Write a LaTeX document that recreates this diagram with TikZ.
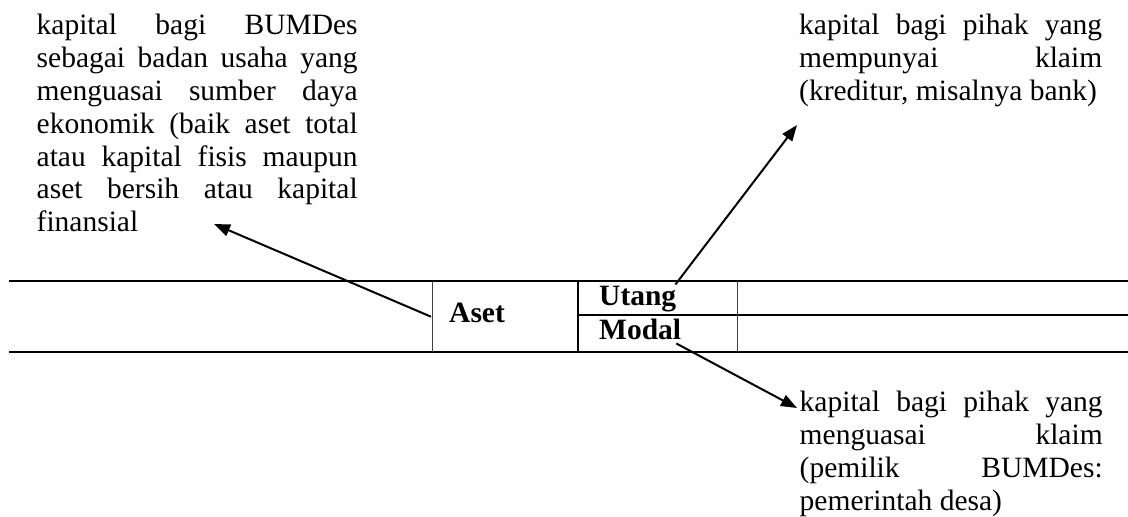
\documentclass[tikz,border=0pt]{standalone}
\usepackage{fontspec}
\setmainfont{Liberation Serif}
\usetikzlibrary{arrows.meta}
\hyphenpenalty=10000
\exhyphenpenalty=10000
\tolerance=9999

\tikzset{
  keterangan/.style={anchor=base west, inner sep=0pt, text width=#1, align=justify,
    font=\fontsize{29.5}{32.8}\selectfont},
  garis/.style={line width=2pt},
  sekat/.style={line width=0.7pt, black!75},
  panah/.style={line width=2pt, -{Triangle[length=16pt,width=12pt]}},
  posbox/.style={anchor=base west, inner sep=0pt, font=\fontsize{29.5}{32.8}\selectfont\bfseries}
}

\begin{document}
\begin{tikzpicture}[x=1pt,y=1pt,line join=round]
			\useasboundingbox (0,0) rectangle (1128,517);
			% tabel
			\coordinate (KA) at (9,236);
			\coordinate (KB) at (9,165);
			\coordinate (NA) at (1128,236);
			\coordinate (NB) at (1128,165);
			\coordinate (NT) at (1128,201.5);
			\coordinate (AA) at (432,236);
			\coordinate (AB) at (432,165);
			\coordinate (UA) at (578,236);
			\coordinate (UT) at (578,201.5);
			\coordinate (UB) at (578,165);
			\coordinate (SA) at (737,236);
			\coordinate (SB) at (737,165);
			\draw[garis] (KA)--(NA);
			\draw[garis] (KB)--(NB);
			\draw[garis] (UT)--(NT);
			\draw[garis,line width=1.4pt] (UA)--(UB);
			\draw[sekat] (AA)--(AB);
			\draw[sekat] (SA)--(SB);
			\node[posbox] (aset) at (449,194) {Aset};
			\node[posbox] (utang) at (599,211) {Utang};
			\node[posbox] (modal) at (599,177) {Modal};
			% keterangan
			\node[keterangan=321pt] (kiri) at (36.5,482) {kapital bagi BUMDes sebagai badan usaha yang menguasai sumber daya ekonomik (baik aset total atau kapital fisis maupun aset bersih atau kapital finansial};
			\node[keterangan=303pt] (kreditur) at (799,482) {kapital bagi pihak yang\linebreak mempunyai klaim\linebreak (kreditur, misalnya bank)};
			\node[keterangan=303pt] (pemilik) at (799.5,105.3) {kapital bagi pihak yang\linebreak menguasai klaim\linebreak (pemilik BUMDes:\linebreak pemerintah desa)};
			% panah
			\coordinate (p1) at (431,200.3);
			\coordinate (t1) at (214,293);
			\coordinate (t2) at (797,392);
			\coordinate (t3) at (797,109);
			\draw[panah] (p1)--(t1);
			\draw[panah] ([xshift=-1pt,yshift=2pt]utang.north east)--(t2);
			\draw[panah] ([xshift=-5pt,yshift=-3pt]modal.south east)--(t3);
		\end{tikzpicture}
\end{document}
